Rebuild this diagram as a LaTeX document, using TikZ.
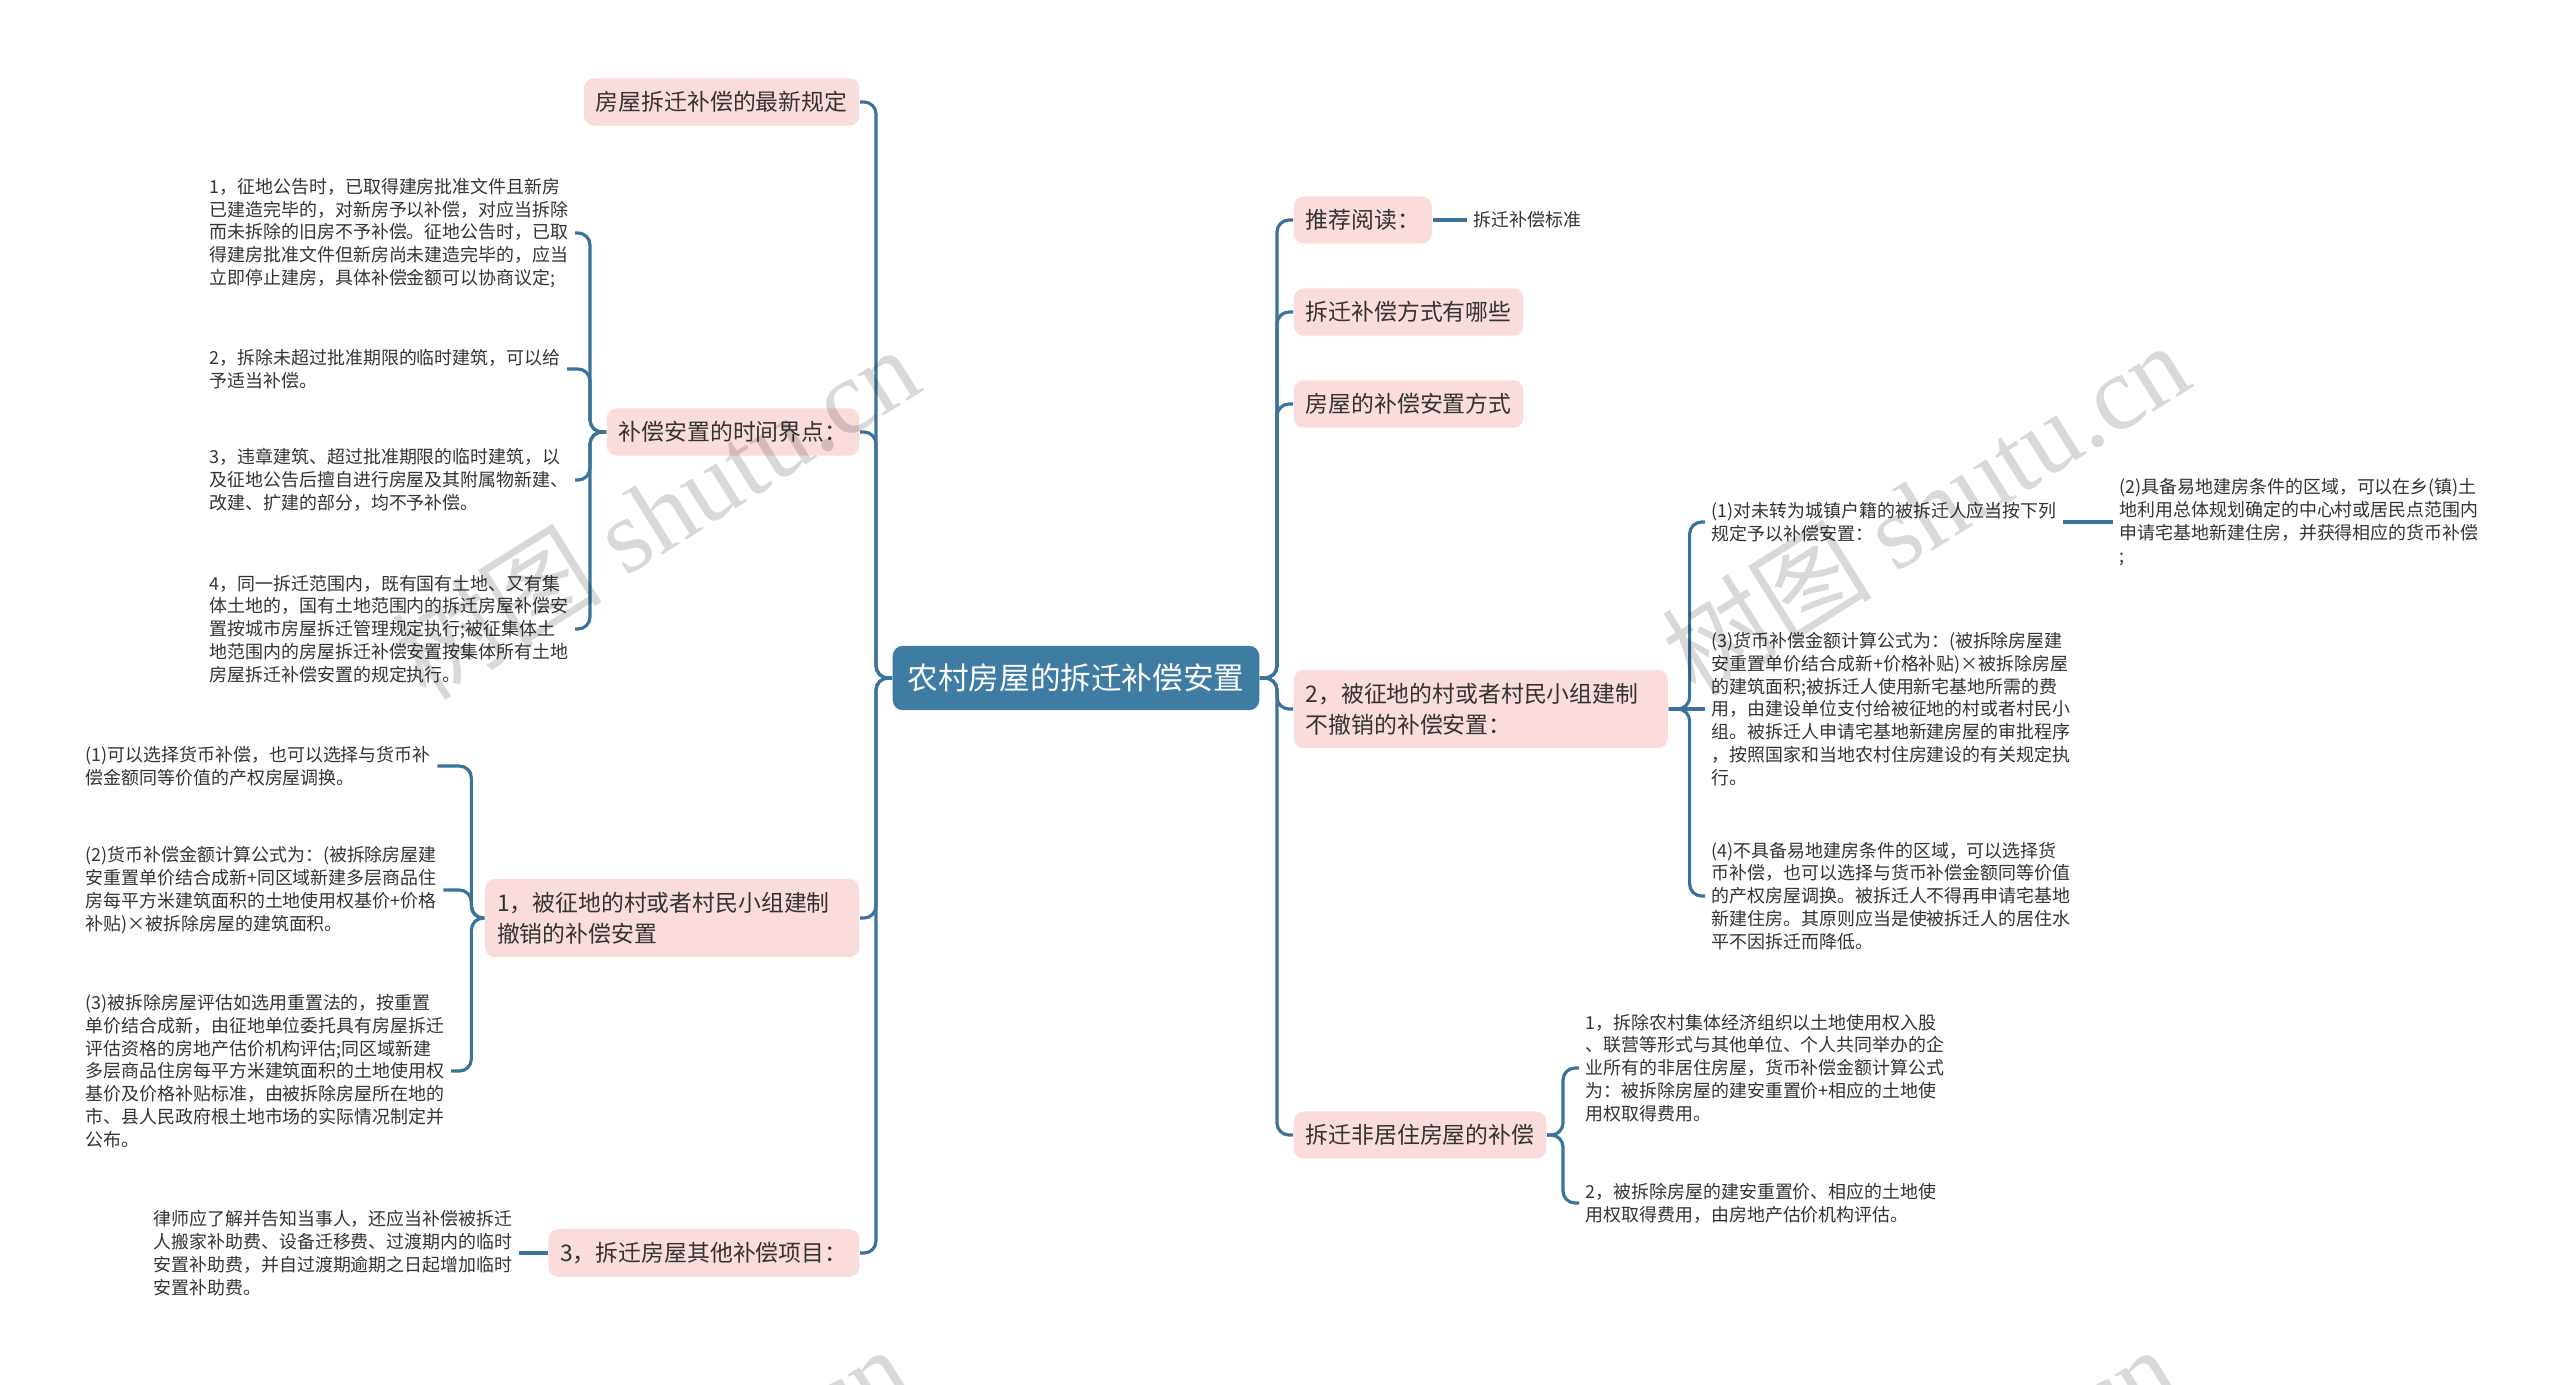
\documentclass[tikz,border=0pt]{standalone}
\usepackage{fontspec}
\setmainfont{Noto Sans CJK SC}
\newfontfamily\marcalatin{Liberation Serif}

\definecolor{azulraiz}{HTML}{3E7CA4}
\definecolor{azulrama}{HTML}{3A7399}
\definecolor{rosatema}{HTML}{FADCDC}
\definecolor{textogris}{HTML}{333333}

\newcommand{\letrahoja}{\fontsize{5.1}{6.5}\selectfont}
\newcommand{\letratema}{\fontsize{6.5}{8.8}\selectfont}
\newcommand{\letraraiz}{\fontsize{8.7}{10}\selectfont}
\newcommand{\letramarca}{\fontsize{30}{30}\selectfont}

\begin{document}
\begin{tikzpicture}[
    x=0.01cm,
    y=-0.01cm,
    raiz/.style={fill=azulraiz,text=white,rounded corners=0.1cm,
        inner xsep=0.15cm,inner ysep=0.18cm,font=\letraraiz},
    tema/.style={fill=rosatema,text=textogris,rounded corners=0.1cm,
        inner xsep=0.12cm,inner ysep=0.13cm,font=\letratema,align=left},
    hoja/.style={text=textogris,font=\letrahoja,align=left,
        inner xsep=0.06cm,inner ysep=0.02cm},
    rama/.style={draw=azulrama,line width=0.9pt,rounded corners=0.12cm},
    marca/.style={text=black,opacity=0.15,rotate=32,font=\letramarca}
]
    \useasboundingbox (0,0) rectangle (2560,1384);

    % Tema central
    \node[raiz] (raiz) at (1076,678) {农村房屋的拆迁补偿安置};

    % Ramas izquierdas
    \node[tema,anchor=east] (actual) at (860,102) {房屋拆迁补偿的最新规定};
    \node[tema,anchor=east] (plazo) at (860,432) {补偿安置的时间界点：};
    \node[tema,anchor=east,text width=3.5cm] (revoca) at (860,918)
        {1，被征地的村或者村民小组建制\\撤销的补偿安置};
    \node[tema,anchor=east] (otros) at (860,1253) {3，拆迁房屋其他补偿项目：};

    \draw[rama] (raiz.west) -- ++(-16,0) |- (actual.east);
    \draw[rama] (raiz.west) -- ++(-16,0) |- (plazo.east);
    \draw[rama] (raiz.west) -- ++(-16,0) |- (revoca.east);
    \draw[rama] (raiz.west) -- ++(-16,0) |- (otros.east);

    \node[hoja,anchor=west] (plazoa) at (203,233)
        {1，征地公告时，已取得建房批准文件且新房\\已建造完毕的，对新房予以补偿，对应当拆除\\而未拆除的旧房不予补偿。征地公告时，已取\\得建房批准文件但新房尚未建造完毕的，应当\\立即停止建房，具体补偿金额可以协商议定;};
    \node[hoja,anchor=west] (plazob) at (203,369)
        {2，拆除未超过批准期限的临时建筑，可以给\\予适当补偿。};
    \node[hoja,anchor=west] (plazoc) at (203,480)
        {3，违章建筑、超过批准期限的临时建筑，以\\及征地公告后擅自进行房屋及其附属物新建、\\改建、扩建的部分，均不予补偿。};
    \node[hoja,anchor=west] (plazod) at (203,629)
        {4，同一拆迁范围内，既有国有土地、又有集\\体土地的，国有土地范围内的拆迁房屋补偿安\\置按城市房屋拆迁管理规定执行;被征集体土\\地范围内的房屋拆迁补偿安置按集体所有土地\\房屋拆迁补偿安置的规定执行。};

    \draw[rama] (plazo.west) -- ++(-16,0) |- (plazoa.east);
    \draw[rama] (plazo.west) -- ++(-16,0) |- (plazob.east);
    \draw[rama] (plazo.west) -- ++(-16,0) |- (plazoc.east);
    \draw[rama] (plazo.west) -- ++(-16,0) |- (plazod.east);

    \node[hoja,anchor=west] (revocaa) at (79,766)
        {(1)可以选择货币补偿，也可以选择与货币补\\偿金额同等价值的产权房屋调换。};
    \node[hoja,anchor=west] (revocab) at (79,890)
        {(2)货币补偿金额计算公式为：(被拆除房屋建\\安重置单价结合成新+同区域新建多层商品住\\房每平方米建筑面积的土地使用权基价+价格\\补贴)×被拆除房屋的建筑面积。};
    \node[hoja,anchor=west] (revocac) at (79,1071)
        {(3)被拆除房屋评估如选用重置法的，按重置\\单价结合成新，由征地单位委托具有房屋拆迁\\评估资格的房地产估价机构评估;同区域新建\\多层商品住房每平方米建筑面积的土地使用权\\基价及价格补贴标准，由被拆除房屋所在地的\\市、县人民政府根土地市场的实际情况制定并\\公布。};

    \draw[rama] (revoca.west) -- ++(-13,0) |- (revocaa.east);
    \draw[rama] (revoca.west) -- ++(-13,0) |- (revocab.east);
    \draw[rama] (revoca.west) -- ++(-13,0) |- (revocac.east);

    \node[hoja,anchor=west] (otrosa) at (147,1253)
        {律师应了解并告知当事人，还应当补偿被拆迁\\人搬家补助费、设备迁移费、过渡期内的临时\\安置补助费，并自过渡期逾期之日起增加临时\\安置补助费。};
    \draw[rama] (otros.west) -- (otrosa.east);

    % Ramas derechas
    \node[tema,anchor=west] (lectura) at (1293,220) {推荐阅读：};
    \node[tema,anchor=west] (formas) at (1293,312) {拆迁补偿方式有哪些};
    \node[tema,anchor=west] (modo) at (1293,404) {房屋的补偿安置方式};
    \node[tema,anchor=west,text width=3.5cm] (norevoca) at (1293,709)
        {2，被征地的村或者村民小组建制\\不撤销的补偿安置：};
    \node[tema,anchor=west] (nores) at (1293,1135) {拆迁非居住房屋的补偿};

    \draw[rama] (raiz.east) -- ++(17,0) |- (lectura.west);
    \draw[rama] (raiz.east) -- ++(17,0) |- (formas.west);
    \draw[rama] (raiz.east) -- ++(17,0) |- (modo.west);
    \draw[rama] (raiz.east) -- ++(17,0) |- (norevoca.west);
    \draw[rama] (raiz.east) -- ++(17,0) |- (nores.west);

    \node[hoja,anchor=west] (lecturaa) at (1467,220) {拆迁补偿标准};
    \draw[rama] (lectura.east) -- (lecturaa.west);

    \node[hoja,anchor=west] (norevocaa) at (1705,522)
        {(1)对未转为城镇户籍的被拆迁人应当按下列\\规定予以补偿安置：};
    \node[hoja,anchor=west] (norevocab) at (1705,709)
        {(3)货币补偿金额计算公式为：(被拆除房屋建\\安重置单价结合成新+价格补贴)×被拆除房屋\\的建筑面积;被拆迁人使用新宅基地所需的费\\用，由建设单位支付给被征地的村或者村民小\\组。被拆迁人申请宅基地新建房屋的审批程序\\，按照国家和当地农村住房建设的有关规定执\\行。};
    \node[hoja,anchor=west] (norevocac) at (1705,896)
        {(4)不具备易地建房条件的区域，可以选择货\\币补偿，也可以选择与货币补偿金额同等价值\\的产权房屋调换。被拆迁人不得再申请宅基地\\新建住房。其原则应当是使被拆迁人的居住水\\平不因拆迁而降低。};

    \draw[rama] (norevoca.east) -- ++(21,0) |- (norevocaa.west);
    \draw[rama] (norevoca.east) -- (norevocab.west);
    \draw[rama] (norevoca.east) -- ++(21,0) |- (norevocac.west);

    \node[hoja,anchor=west] (sede) at (2113,522)
        {(2)具备易地建房条件的区域，可以在乡(镇)土\\地利用总体规划确定的中心村或居民点范围内\\申请宅基地新建住房，并获得相应的货币补偿\\;};
    \draw[rama] (norevocaa.east) -- (sede.west);

    \node[hoja,anchor=west] (noresa) at (1579,1068)
        {1，拆除农村集体经济组织以土地使用权入股\\、联营等形式与其他单位、个人共同举办的企\\业所有的非居住房屋，货币补偿金额计算公式\\为：被拆除房屋的建安重置价+相应的土地使\\用权取得费用。};
    \node[hoja,anchor=west] (noresb) at (1579,1203)
        {2，被拆除房屋的建安重置价、相应的土地使\\用权取得费用，由房地产估价机构评估。};

    \draw[rama] (nores.east) -- ++(16,0) |- (noresa.west);
    \draw[rama] (nores.east) -- ++(16,0) |- (noresb.west);

    % Marcas de agua
    \node[marca] (marca1) at (655,512) {树图 {\marcalatin shutu.cn}};
    \node[marca] (marca2) at (1925,508) {树图 {\marcalatin shutu.cn}};
    \node[marca] (marca3) at (645,1512) {树图 {\marcalatin shutu.cn}};
    \node[marca] (marca4) at (1912,1512) {树图 {\marcalatin shutu.cn}};
\end{tikzpicture}
\end{document}
